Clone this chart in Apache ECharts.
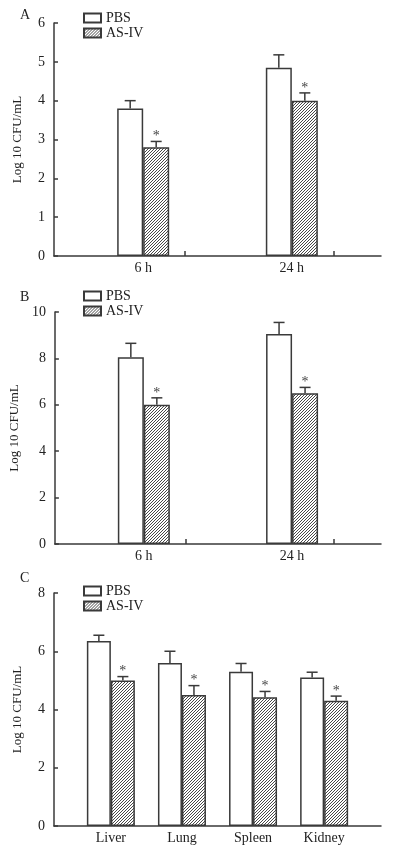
<!DOCTYPE html>
<html>
<head>
<meta charset="utf-8">
<script src="https://cdn.jsdelivr.net/npm/echarts@6/dist/echarts.min.js"></script>
<style>
  html, body { margin: 0; padding: 0; background: #fff; }
  #chart { width: 393px; height: 848px; }
</style>
</head>
<body>
<div id="chart"></div>
<script>
// categories
const timeCats = ["6 h", "24 h"];
const organCats = ["Liver", "Lung", "Spleen", "Kidney"];

// panel A (log10 CFU/mL)
const aPbs = [3.8, 4.85];
const aPbsErr = [0.2, 0.33];
const aAsiv = [2.8, 4.0];
const aAsivErr = [0.15, 0.2];

// panel B
const bPbs = [8.05, 9.05];
const bPbsErr = [0.6, 0.5];
const bAsiv = [6.0, 6.5];
const bAsivErr = [0.3, 0.25];

// panel C
const cPbs = [6.35, 5.6, 5.3, 5.1];
const cPbsErr = [0.2, 0.4, 0.28, 0.18];
const cAsiv = [5.0, 4.5, 4.42, 4.3];
const cAsivErr = [0.13, 0.32, 0.2, 0.16];

// extra x ticks drawn on panels A and B
const timeTicks = [0.28, 1.28];

const FONT = "Liberation Serif";
const INK = "#222";
const LINE = "#3a3a3a";

// diagonal hatch for AS-IV
const hatch = document.createElement("canvas");
hatch.width = 3;
hatch.height = 3;
const hctx = hatch.getContext("2d");
hctx.fillStyle = "#fff";
hctx.fillRect(0, 0, 3, 3);
hctx.strokeStyle = "#333";
hctx.lineWidth = 0.9;
hctx.beginPath();
hctx.moveTo(0, 3); hctx.lineTo(3, 0);
hctx.moveTo(-1, 1); hctx.lineTo(1, -1);
hctx.moveTo(2, 4); hctx.lineTo(4, 2);
hctx.stroke();
const hatchFill = { image: hatch, repeat: "repeat" };

const panels = [
  { letter: "A", top: 23, height: 233, max: 6, interval: 1, cats: timeCats, xMin: -0.6, xMax: 1.6,
    ticks: timeTicks, barW: 26, legendTop: 11, letterY: 15,
    pbs: aPbs, pbsErr: aPbsErr, asiv: aAsiv, asivErr: aAsivErr },
  { letter: "B", top: 312, height: 232, max: 10, interval: 2, cats: timeCats, xMin: -0.6, xMax: 1.6,
    ticks: timeTicks, barW: 26, legendTop: 289, letterY: 297,
    pbs: bPbs, pbsErr: bPbsErr, asiv: bAsiv, asivErr: bAsivErr },
  { letter: "C", top: 593, height: 233, max: 8, interval: 2, cats: organCats, xMin: -0.8, xMax: 3.8,
    ticks: null, barW: 24, legendTop: 584, letterY: 578,
    pbs: cPbs, pbsErr: cPbsErr, asiv: cAsiv, asivErr: cAsivErr },
];

const grid = [], xAxis = [], yAxis = [], series = [], legend = [], graphic = [];

function errorSeries(idx, vals, errs, side, barW, star) {
  return {
    type: "custom",
    name: "err",
    xAxisIndex: idx,
    yAxisIndex: idx,
    silent: true,
    z: 5,
    data: vals.map((v, i) => [i, v, v + errs[i]]),
    renderItem: (params, api) => {
      const base = api.coord([api.value(0), api.value(1)]);
      const hi = api.coord([api.value(0), api.value(2)]);
      const x = base[0] + side * barW / 2;
      const children = [
        { type: "line", shape: { x1: x, y1: base[1], x2: x, y2: hi[1] },
          style: { stroke: LINE, lineWidth: 1.5 } },
        { type: "line", shape: { x1: x - 5.5, y1: hi[1], x2: x + 5.5, y2: hi[1] },
          style: { stroke: LINE, lineWidth: 1.5 } },
      ];
      if (star) {
        children.push({ type: "text", x: x, y: hi[1] - 5,
          style: { text: "*", fill: "#444", font: "14px " + FONT, align: "center", verticalAlign: "middle" } });
      }
      return { type: "group", children };
    },
  };
}

panels.forEach((p, idx) => {
  grid.push({ left: 54, right: 12, top: p.top, height: p.height });
  const cats = p.cats;
  xAxis.push({
    type: "value",
    gridIndex: idx,
    min: p.xMin,
    max: p.xMax,
    splitLine: { show: false },
    axisLine: { show: true, onZero: false, lineStyle: { color: LINE, width: 1.5 } },
    axisTick: p.ticks
      ? { show: true, inside: true, length: 5, customValues: p.ticks, lineStyle: { color: LINE, width: 1.5 } }
      : { show: false },
    axisLabel: {
      customValues: cats.map((c, i) => i),
      formatter: (v) => cats[Math.round(v)] || "",
      color: INK, fontFamily: FONT, fontSize: 14, margin: 5,
    },
  });
  yAxis.push({
    type: "value",
    gridIndex: idx,
    min: 0,
    max: p.max,
    interval: p.interval,
    name: "Log 10 CFU/mL",
    nameLocation: "middle",
    nameGap: 30,
    nameTextStyle: { color: INK, fontFamily: FONT, fontSize: 13 },
    splitLine: { show: false },
    axisLine: { show: true, onZero: false, lineStyle: { color: LINE, width: 1.5 } },
    axisTick: { show: true, inside: true, length: 4, lineStyle: { color: LINE, width: 1.5 } },
    axisLabel: { color: INK, fontFamily: FONT, fontSize: 14, margin: 9 },
  });
  series.push({
    type: "bar",
    name: "PBS",
    xAxisIndex: idx,
    yAxisIndex: idx,
    barWidth: p.barW,
    barGap: "0%",
    data: p.pbs.map((v, i) => [i, v]),
    itemStyle: { color: "#fff", borderColor: LINE, borderWidth: 1.5 },
  });
  series.push({
    type: "bar",
    name: "AS-IV",
    xAxisIndex: idx,
    yAxisIndex: idx,
    barWidth: p.barW,
    barGap: "0%",
    data: p.asiv.map((v, i) => [i, v]),
    itemStyle: { color: hatchFill, borderColor: LINE, borderWidth: 1.5 },
  });
  series.push(errorSeries(idx, p.pbs, p.pbsErr, -1, p.barW, false));
  series.push(errorSeries(idx, p.asiv, p.asivErr, 1, p.barW, true));
  legend.push({
    data: ["PBS", "AS-IV"],
    orient: "vertical",
    left: 83,
    top: p.legendTop,
    padding: 0,
    icon: "rect",
    itemWidth: 17,
    itemHeight: 9,
    itemGap: 1,
    selectedMode: false,
    textStyle: { color: INK, fontFamily: FONT, fontSize: 14 },
  });
  graphic.push({
    type: "text",
    left: 20,
    top: p.letterY - 7,
    style: { text: p.letter, fill: INK, font: "14px " + FONT },
  });
});

const chart = echarts.init(document.getElementById("chart"));
chart.setOption({
  animation: false,
  backgroundColor: "#fff",
  grid,
  xAxis,
  yAxis,
  legend,
  graphic,
  series,
});
window.addEventListener("resize", () => chart.resize());
</script>
</body>
</html>
